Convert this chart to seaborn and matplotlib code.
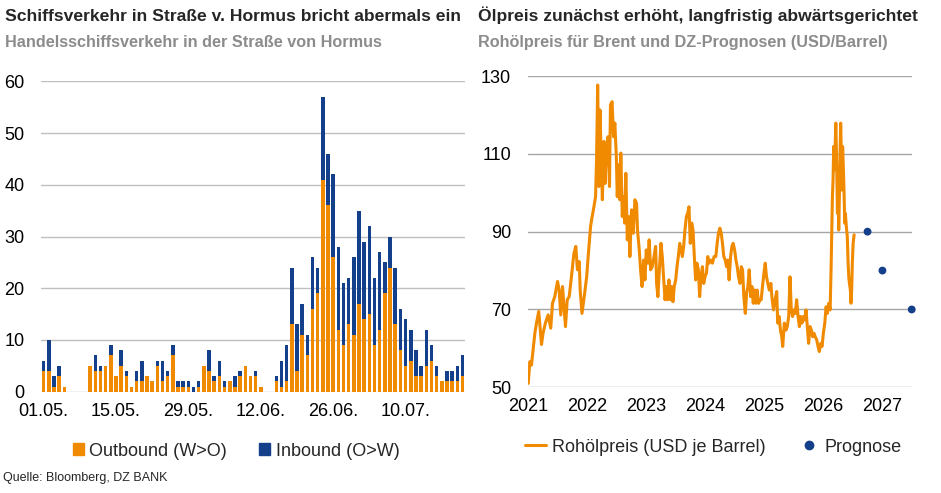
import numpy as np
import pandas as pd
import matplotlib
matplotlib.use('Agg')
import matplotlib.pyplot as plt
import matplotlib.dates as mdates
import seaborn as sns
from matplotlib.lines import Line2D
from matplotlib.patches import Patch

# Ship traffic in the Strait of Hormuz, daily from 01.05.
outbound = [4, 4, 1, 3, 1, 0, 0, 0, 0, 5, 4, 4, 5, 7, 3, 5, 3, 1, 2, 2,
            3, 2, 5, 2, 3, 7, 1, 1, 1, 0, 1, 5, 4, 2, 3, 1, 2, 1, 3, 5,
            3, 3, 1, 0, 0, 2, 1, 2, 13, 4, 11, 7, 16, 19, 41, 36, 26, 12, 9, 13,
            11, 17, 14, 15, 9, 12, 19, 24, 13, 8, 5, 6, 3, 3, 5, 6, 3, 2, 2, 2,
            2, 3]
inbound = [2, 6, 2, 2, 0, 0, 0, 0, 0, 0, 3, 1, 0, 2, 0, 3, 1, 0, 2, 4,
           0, 0, 1, 4, 1, 2, 1, 1, 1, 1, 1, 0, 4, 1, 3, 1, 0, 2, 1, 0,
           0, 1, 0, 0, 0, 1, 5, 7, 11, 9, 6, 4, 10, 5, 16, 10, 16, 16, 12, 9,
           15, 18, 15, 17, 13, 15, 6, 6, 11, 8, 9, 6, 5, 2, 7, 3, 2, 0, 2, 2,
           3, 4]
days = pd.date_range('2026-05-01', periods=len(outbound), freq='D')
tick_every = 14

# Brent crude price (USD/barrel)
brent_dates = [
    '2021-01-03', '2021-01-13', '2021-01-23', '2021-02-02', '2021-02-13', '2021-02-23',
    '2021-03-09', '2021-03-26', '2021-04-05', '2021-04-19', '2021-05-06', '2021-05-22',
    '2021-06-02', '2021-06-16', '2021-07-03', '2021-07-13', '2021-07-23', '2021-08-03',
    '2021-08-21', '2021-09-01', '2021-09-13', '2021-09-27', '2021-10-12', '2021-10-24',
    '2021-11-03', '2021-11-14', '2021-11-20', '2021-12-01', '2021-12-15', '2021-12-30',
    '2022-01-09', '2022-01-23', '2022-02-02', '2022-02-13', '2022-02-23', '2022-03-01',
    '2022-03-08', '2022-03-16', '2022-03-22', '2022-03-31', '2022-04-06', '2022-04-15',
    '2022-04-23', '2022-05-01', '2022-05-11', '2022-05-20', '2022-05-26', '2022-06-05',
    '2022-06-14', '2022-06-22', '2022-07-01', '2022-07-07', '2022-07-15', '2022-07-23',
    '2022-07-29', '2022-08-07', '2022-08-15', '2022-08-21', '2022-08-29', '2022-09-07',
    '2022-09-15', '2022-09-23', '2022-10-03', '2022-10-14', '2022-10-24', '2022-11-03',
    '2022-11-09', '2022-11-20', '2022-11-28', '2022-12-07', '2022-12-17', '2022-12-25',
    '2023-01-02', '2023-01-12', '2023-01-20', '2023-01-29', '2023-02-08', '2023-02-19',
    '2023-03-01', '2023-03-07', '2023-03-15', '2023-03-24', '2023-04-03', '2023-04-11',
    '2023-04-19', '2023-04-28', '2023-05-06', '2023-05-14', '2023-05-22', '2023-05-31',
    '2023-06-08', '2023-06-16', '2023-06-24', '2023-07-03', '2023-07-11', '2023-07-19',
    '2023-07-28', '2023-08-05', '2023-08-13', '2023-08-21', '2023-08-29', '2023-09-07',
    '2023-09-15', '2023-09-23', '2023-10-01', '2023-10-10', '2023-10-18', '2023-10-26',
    '2023-11-03', '2023-11-11', '2023-11-20', '2023-11-28', '2023-12-06', '2023-12-15',
    '2023-12-23', '2023-12-31',
    '2024-01-09', '2024-01-17', '2024-01-25', '2024-02-05', '2024-02-15', '2024-02-25',
    '2024-03-07', '2024-03-15', '2024-03-23', '2024-04-01', '2024-04-09', '2024-04-17',
    '2024-04-25', '2024-05-04', '2024-05-12', '2024-05-20', '2024-05-28', '2024-06-06',
    '2024-06-14', '2024-06-22', '2024-07-01', '2024-07-09', '2024-07-17', '2024-07-25',
    '2024-08-03', '2024-08-11', '2024-08-19', '2024-08-27', '2024-09-05', '2024-09-13',
    '2024-09-21', '2024-09-29', '2024-10-08', '2024-10-16', '2024-10-24', '2024-11-01',
    '2024-11-09', '2024-11-17', '2024-11-26', '2024-12-04', '2024-12-12', '2024-12-20',
    '2024-12-29',
    '2025-01-06', '2025-01-14', '2025-01-22', '2025-01-31', '2025-02-10', '2025-02-16',
    '2025-02-26', '2025-03-08', '2025-03-18', '2025-03-24', '2025-04-02', '2025-04-10',
    '2025-04-18', '2025-04-24', '2025-05-04', '2025-05-14', '2025-05-22', '2025-05-31',
    '2025-06-08', '2025-06-16', '2025-06-24', '2025-07-03', '2025-07-11', '2025-07-19',
    '2025-07-28', '2025-08-05', '2025-08-13', '2025-08-21', '2025-08-29', '2025-09-07',
    '2025-09-15', '2025-09-23', '2025-10-01', '2025-10-10', '2025-10-18', '2025-10-26',
    '2025-11-03', '2025-11-11', '2025-11-20', '2025-11-28', '2025-12-06', '2025-12-15',
    '2025-12-23', '2025-12-31',
    '2026-01-09', '2026-01-17', '2026-01-25', '2026-02-03', '2026-02-11', '2026-02-17',
    '2026-02-21', '2026-02-25', '2026-03-01', '2026-03-05', '2026-03-09', '2026-03-14',
    '2026-03-18', '2026-03-24', '2026-03-28', '2026-04-01', '2026-04-05', '2026-04-09',
    '2026-04-13', '2026-04-17', '2026-04-21', '2026-04-25', '2026-04-29', '2026-05-04',
    '2026-05-08', '2026-05-12', '2026-05-16', '2026-05-22', '2026-05-28', '2026-06-02',
    '2026-06-06', '2026-06-10', '2026-06-16', '2026-06-20', '2026-06-24', '2026-06-28',
    '2026-07-03', '2026-07-09',
]
brent_values = [
    51.0, 56.6, 55.7, 59.6, 63.9, 66.5,
    69.5, 61.0, 64.0, 66.5, 68.6, 65.2,
    71.6, 73.3, 77.2, 75.0, 68.6, 75.9,
    65.6, 72.5, 73.3, 78.4, 84.4, 86.2,
    80.2, 82.3, 75.0, 69.0, 73.3, 78.4,
    84.0, 91.3, 93.9, 96.4, 99.0, 108.4,
    127.7, 101.6, 121.3, 107.6, 98.2, 113.2,
    102.4, 111.7, 114.4, 101.6, 122.6, 123.4,
    114.4, 117.9, 109.7, 99.0, 107.2, 98.2,
    110.2, 93.9, 99.0, 92.2, 105.0, 87.9,
    93.9, 83.6, 95.6, 89.6, 98.2, 97.3,
    90.4, 85.3, 80.2, 75.9, 82.7, 77.6,
    85.3, 81.9, 87.9, 80.2, 81.0, 83.6,
    86.2, 76.7, 73.3, 80.2, 87.0, 83.6,
    78.4, 72.5, 75.9, 72.5, 77.6, 72.5,
    75.9, 72.0, 75.9, 77.6, 81.0, 83.6,
    87.0, 85.3, 83.6, 86.2, 90.4, 93.9,
    94.7, 96.4, 87.0, 92.2, 90.4, 83.6,
    77.6, 81.9, 80.2, 73.3, 78.4, 81.0,
    76.7, 78.4,
    79.3, 83.6, 81.9, 82.7, 81.9, 83.6,
    83.6, 87.0, 89.6, 90.9, 89.6, 87.0,
    83.6, 82.7, 81.0, 82.7, 77.6, 83.6,
    86.2, 87.0, 85.3, 82.7, 81.0, 78.4,
    76.7, 81.0, 80.2, 73.3, 69.0, 74.2,
    75.9, 80.2, 73.3, 75.9, 71.6, 75.0,
    71.6, 75.0, 71.6, 72.5, 72.5, 75.9,
    79.3,
    81.9, 78.4, 76.7, 75.0, 76.7, 73.3,
    69.9, 72.5, 74.6, 66.5, 68.2, 64.7,
    63.0, 60.5, 66.5, 64.7, 65.6, 68.2,
    78.4, 69.9, 68.2, 69.9, 69.0, 72.5,
    68.2, 65.6, 68.2, 66.5, 68.2, 67.3,
    69.9, 65.6, 61.3, 65.6, 64.7, 63.0,
    63.9, 63.0, 62.2, 60.5, 59.2, 61.3,
    60.5, 63.9,
    66.5, 70.7, 69.0, 71.6, 69.9, 81.0,
    90.4, 99.0, 103.3, 111.9, 105.9, 111.9,
    117.9, 105.9, 94.7, 101.6, 90.4, 99.0,
    110.2, 117.9, 110.2, 100.7, 111.9, 105.9,
    99.9, 92.2, 94.7, 91.3, 88.7, 81.9,
    78.4, 76.7, 75.0, 71.6, 75.0, 81.9,
    87.0, 89.2,
]

# DZ BANK forecasts
forecast_dates = ['2026-09-30', '2026-12-31', '2027-06-30']
forecast_values = [90, 80, 70]

ORANGE = '#F08A00'
BLUE = '#143F8B'
GREY_TXT = '#8C8C8C'

sns.set_theme(style='white')
plt.rcParams['font.family'] = ['Liberation Sans', 'DejaVu Sans']

fig = plt.figure(figsize=(9.41, 4.93), dpi=100)
ax1 = fig.add_axes([0.0436, 0.2055, 0.4506, 0.6295])
ax2 = fig.add_axes([0.561, 0.2144, 0.4079, 0.6314])

# Left chart: stacked bars (total in blue, outbound on top of it in orange)
ship = pd.DataFrame({'day': days.strftime('%d.%m.'), 'out': outbound, 'inb': inbound})
ship['total'] = ship['out'] + ship['inb']
sns.barplot(data=ship, x='day', y='total', color=BLUE, width=0.68,
            saturation=1, errorbar=None, linewidth=0, edgecolor='none', ax=ax1)
sns.barplot(data=ship, x='day', y='out', color=ORANGE, width=0.68,
            saturation=1, errorbar=None, linewidth=0, edgecolor='none', ax=ax1)
ax1.set_xlim(-0.5, len(ship) - 0.5)
ax1.set_ylim(0, 60)
ax1.set_yticks(range(0, 61, 10))
ticks = list(range(0, len(ship), tick_every))
ax1.set_xticks(ticks)
ax1.set_xticklabels(ship['day'].iloc[ticks])
ax1.yaxis.grid(True, color='#BFBFBF', lw=1)
ax1.set_axisbelow(True)
ax1.set_xlabel('')
ax1.set_ylabel('')

# Right chart: Brent line plus forecast points
brent = pd.DataFrame({'date': pd.to_datetime(brent_dates), 'price': brent_values})
sns.lineplot(data=brent, x='date', y='price', color=ORANGE, lw=2.2, ax=ax2)
sns.scatterplot(x=pd.to_datetime(forecast_dates), y=forecast_values, color=BLUE,
                s=32, edgecolor='none', ax=ax2, clip_on=False, zorder=3)
ax2.set_xlim(pd.Timestamp('2021-01-01'), pd.Timestamp('2027-06-30'))
ax2.set_ylim(50, 130)
ax2.set_yticks(range(50, 131, 20))
ax2.xaxis.set_major_locator(mdates.YearLocator())
ax2.xaxis.set_major_formatter(mdates.DateFormatter('%Y'))
ax2.yaxis.grid(True, color='#A6A6A6', lw=1)
ax2.set_axisbelow(True)
ax2.set_xlabel('')
ax2.set_ylabel('')

for ax in (ax1, ax2):
    sns.despine(ax=ax, left=True, bottom=True)
    ax.tick_params(axis='both', length=0, labelsize=13, colors='black')
    ax.tick_params(axis='y', pad=12)
    ax.tick_params(axis='x', pad=8)

# Titles
fig.text(0.005, 0.958, 'Schiffsverkehr in Straße v. Hormus bricht abermals ein',
         fontsize=12.6, fontweight='bold', va='baseline')
fig.text(0.005, 0.905, 'Handelsschiffsverkehr in der Straße von Hormus',
         fontsize=11.7, fontweight='bold', color=GREY_TXT, va='baseline')
fig.text(0.508, 0.958, 'Ölpreis zunächst erhöht, langfristig abwärtsgerichtet',
         fontsize=12.6, fontweight='bold', va='baseline')
fig.text(0.508, 0.905, 'Rohölpreis für Brent und DZ-Prognosen (USD/Barrel)',
         fontsize=11.7, fontweight='bold', color=GREY_TXT, va='baseline')

# Legends
fig.legend(handles=[Patch(color=ORANGE), Patch(color=BLUE)],
           labels=['Outbound (W>O)', 'Inbound (O>W)'],
           loc='center', bbox_to_anchor=(0.251, 0.085), ncol=2, frameon=False,
           fontsize=13, handlelength=0.6, handleheight=0.6, handletextpad=0.3,
           columnspacing=1.8)
fig.legend(handles=[Line2D([], [], color=ORANGE, lw=2.2),
                    Line2D([], [], color=BLUE, marker='o', ls='none', markersize=6)],
           labels=['Rohölpreis (USD je Barrel)', 'Prognose'],
           loc='center', bbox_to_anchor=(0.758, 0.093), ncol=2, frameon=False,
           fontsize=13, handlelength=1.2, handletextpad=0.3, columnspacing=1.8)

fig.text(0.003, 0.024, 'Quelle: Bloomberg, DZ BANK', fontsize=9, va='baseline')

fig.savefig('out.png', dpi=100)
